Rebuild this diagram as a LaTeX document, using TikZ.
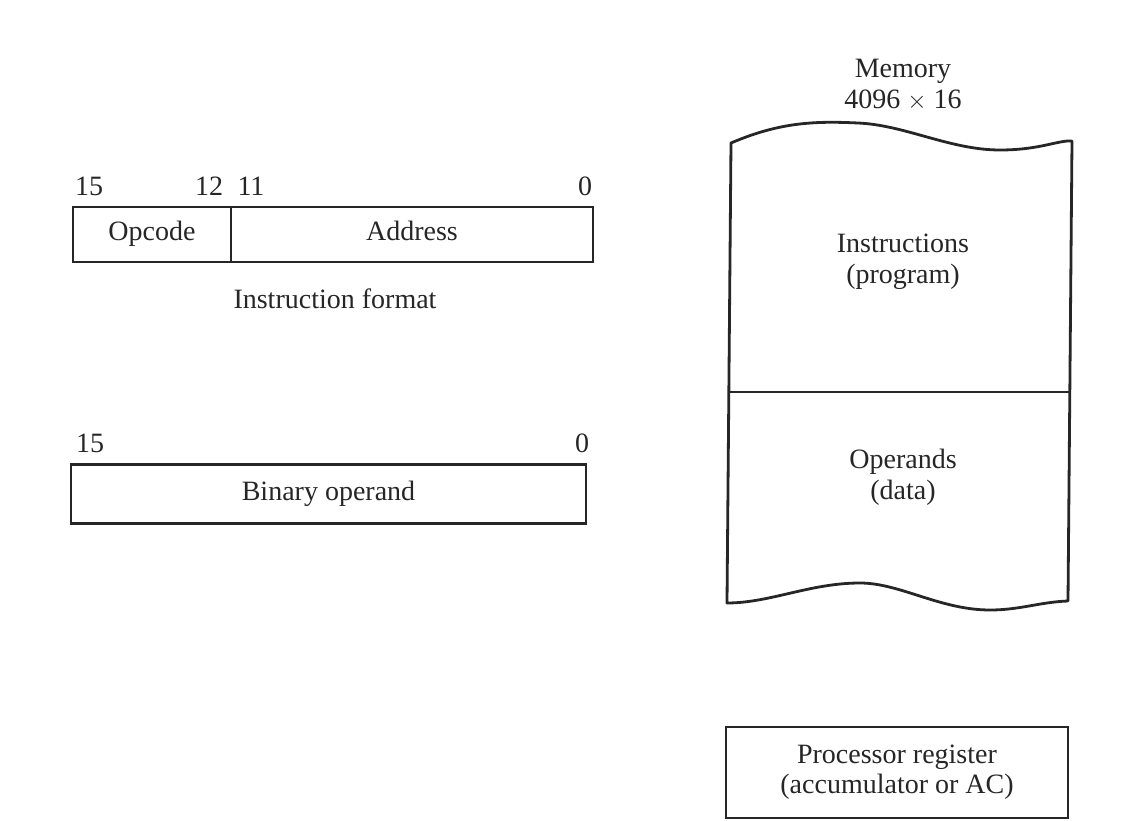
\documentclass[tikz,border=0pt]{standalone}
\usepackage{fontspec}
\setmainfont{Liberation Serif}
\begin{document}
\begin{tikzpicture}[x=1pt,y=-1pt,
  every node/.style={font=\fontsize{28}{31}\selectfont, text=black!85},
  field/.style={draw=black!85, line width=2.8pt, inner sep=0pt, minimum height=#1,
    text height=19pt, text depth=6pt},
  lbl/.style={inner sep=0pt, anchor=base},
  outline/.style={draw=black!85, line width=2.8pt, line join=round}]
\useasboundingbox (0,0) rectangle (1122,821);
% Instruction format
\node[field=55pt, minimum width=158pt] (opc) at (152,234.5) {Opcode};
\node[field=55pt, minimum width=362pt] (adr) at (412,234.5) {Address};
\node[lbl] (b15a) at (89,196) {15};
\node[lbl] (b12) at (209,196) {12};
\node[lbl] (b11) at (251,196) {11};
\node[lbl] (b0a) at (585,196) {0};
\node (ifmt) at (335,299) {Instruction format};
% Binary operand
\node[field=59pt, minimum width=515pt] (bin) at (328.5,494) {Binary operand};
\node[lbl] (b15b) at (90,452) {15};
\node[lbl] (b0b) at (582,452) {0};
% Memory
\node[align=center] (memt) at (903,85) {Memory\\4096 $\times$ 16};
\coordinate (mtl) at (731,143);
\coordinate (mtr) at (1072,141);
\coordinate (mbl) at (727,603);
\coordinate (mbr) at (1068,601);
\draw[outline] (mtl) .. controls (780,122) and (815,121) .. (858,123)
  .. controls (905,125) and (950,150) .. (1000,150)
  .. controls (1040,150) and (1058,140) .. (mtr)
  -- (mbr)
  .. controls (1040,602) and (1020,610) .. (990,610)
  .. controls (940,610) and (900,583) .. (860,583)
  .. controls (810,583) and (770,603) .. (mbl) -- cycle;
\coordinate (dl) at (729,392);
\coordinate (dr) at (1070,392);
\draw[outline] (dl) -- (dr);
\node[align=center] (instr) at (903,262) {Instructions\\(program)};
\node[align=center] (oper) at (903,477) {Operands\\(data)};
% Processor register
\node[draw=black!85, line width=2.8pt, inner sep=0pt, minimum height=91pt, minimum width=342pt, align=center, font=\fontsize{28}{30}\selectfont] (ac) at (897,772.5) {Processor register\\(accumulator or AC)};
\end{tikzpicture}
\end{document}
